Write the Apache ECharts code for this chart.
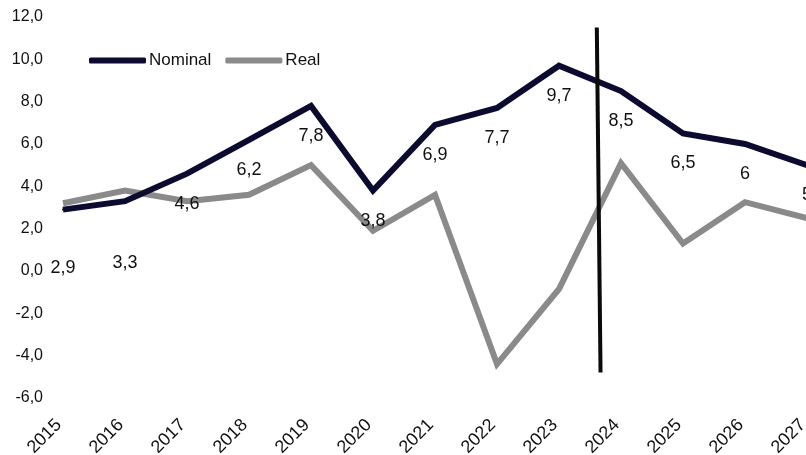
<!DOCTYPE html>
<html>
<head>
<meta charset="utf-8">
<script src="https://cdn.jsdelivr.net/npm/echarts@6/dist/echarts.min.js"></script>
<style>
  html, body { margin: 0; padding: 0; background: #ffffff; }
  #chart { width: 806px; height: 455px; }
</style>
</head>
<body>
<div id="chart"></div>
<script>
// Growth rates by year, in percent
const years = ['2015', '2016', '2017', '2018', '2019', '2020', '2021', '2022', '2023', '2024', '2025', '2026', '2027'];
const nominal = [2.9, 3.3, 4.6, 6.2, 7.8, 3.8, 6.9, 7.7, 9.7, 8.5, 6.5, 6, 5];
const real = [3.2, 3.8, 3.3, 3.6, 5.0, 1.9, 3.6, -4.4, -0.85, 5.1, 1.3, 3.25, 2.5];

// Divider separating actuals from projections (position on the year index scale, value range)
const dividerX = [8.61, 8.67];
const dividerY = [11.5, -4.8];

const yTicks = { min: -6, max: 12, step: 2 };

// Label drop below each nominal point (px); a couple of early labels sit lower
const labelDrop = nominal.map((v, i) => (i === 0 ? 58 : i === 1 ? 62 : 30));

const fmt = v => String(v).replace('.', ',');
const font = 'Liberation Sans, Arial, Helvetica, sans-serif';

const chart = echarts.init(document.getElementById('chart'), null, { renderer: 'canvas' });

chart.setOption({
  animation: false,
  backgroundColor: '#ffffff',
  textStyle: { fontFamily: font },
  legend: {
    data: ['Nominal', 'Real'],
    left: 89,
    top: 52,
    icon: 'roundRect',
    itemWidth: 57,
    itemHeight: 6,
    itemGap: 14,
    padding: 0,
    textStyle: { fontSize: 17, color: '#111111', fontFamily: font, padding: [0, 0, 0, -2] }
  },
  grid: { left: 63, top: 17, width: 744, height: 381, containLabel: false, outerBoundsMode: 'none' },
  xAxis: [
    {
      type: 'category',
      data: years,
      boundaryGap: false,
      axisLine: { show: false },
      axisTick: { show: false },
      splitLine: { show: false },
      axisLabel: {
        rotate: 45,
        margin: 20,
        fontSize: 18,
        padding: [0, 6, 0, 0],
        color: '#111111',
        fontFamily: font,
        interval: 0
      }
    },
    {
      type: 'value',
      min: 0,
      max: years.length - 1,
      show: false
    }
  ],
  yAxis: {
    type: 'value',
    min: yTicks.min,
    max: yTicks.max,
    interval: yTicks.step,
    axisLine: { show: false },
    axisTick: { show: false },
    splitLine: { show: false },
    axisLabel: {
      margin: 20,
      fontSize: 16,
      color: '#111111',
      fontFamily: font,
      formatter: v => v.toFixed(1).replace('.', ',')
    }
  },
  series: [
    {
      name: 'Real',
      type: 'line',
      xAxisIndex: 0,
      data: real,
      symbol: 'none',
      color: '#8a8a8a',
      lineStyle: { width: 6, color: '#8a8a8a', join: 'miter' },
      z: 2
    },
    {
      name: 'Nominal',
      type: 'line',
      xAxisIndex: 0,
      data: nominal.map((v, i) => ({
        value: v,
        label: { offset: [0, labelDrop[i]] }
      })),
      symbol: 'circle',
      symbolSize: 2,
      itemStyle: { color: '#0b0b30' },
      color: '#0b0b30',
      lineStyle: { width: 6, color: '#0b0b30', join: 'miter' },
      label: {
        show: true,
        position: 'inside',
        fontSize: 18,
        color: '#111111',
        fontFamily: font,
        formatter: p => fmt(p.value)
      },
      z: 3
    },
    {
      name: 'divider',
      type: 'line',
      xAxisIndex: 1,
      data: [[dividerX[0], dividerY[0]], [dividerX[1], dividerY[1]]],
      symbol: 'none',
      lineStyle: { width: 4, color: '#0a0a0a' },
      silent: true,
      z: 4
    }
  ]
});
</script>
</body>
</html>
